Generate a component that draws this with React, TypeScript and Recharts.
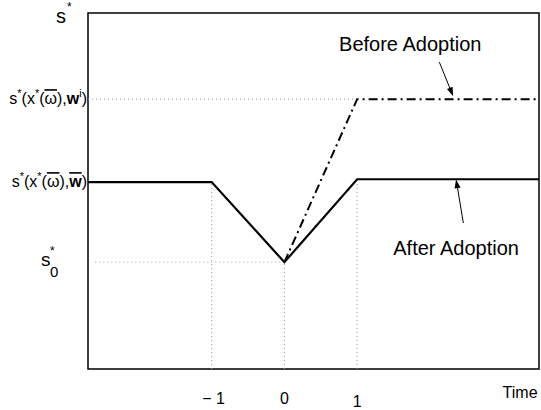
import React from 'react';
import { LineChart, Line, XAxis, YAxis, ReferenceLine, ReferenceArea, ReferenceDot } from 'recharts';

// Domain of the plot
const xDomain = [-2.7, 3.5];
const yDomain = [0, 10];

// Levels
const s0 = 3;
const sBar = 5.25;
const sBarRight = 5.33;
const sWi = 7.58;

// Series
const afterX = [-2.7, -1, 0, 1, 3.5];
const afterY = [sBar, sBar, s0, sBarRight, sBarRight];
const beforeX = [0, 1, 3.5];
const beforeY = [s0, sWi, sWi];

const afterData = afterX.map((x, i) => ({ x, y: afterY[i] }));
const beforeData = beforeX.map((x, i) => ({ x, y: beforeY[i] }));

// Ticks
const timeTicks = [-1, 0, 1];
const timeTickLabels = ['\u2212 1', '0', '1'];
const levelTicks = [s0, sBar, sWi];

// Guide lines (dotted)
const hGuides = [
  { y: sWi, x1: -2.7, x2: 1 },
  { y: s0, x1: -2.6, x2: 0 },
];
const vGuides = [
  { x: -1, y2: sBar },
  { x: 0, y2: s0 },
  { x: 1, y2: sBarRight },
];

// Annotations
const annotations = [
  { text: 'Before Adoption', x: 1.73, y: 8.93 },
  { text: 'After Adoption', x: 2.36, y: 3.2 },
];
const arrows = [
  { x1: 2.13, y1: 8.62, x2: 2.32, y2: 7.66 },
  { x1: 2.46, y1: 4.1, x2: 2.36, y2: 5.33 },
];

const FONT = '"Liberation Sans", Arial, Helvetica, sans-serif';

const ArrowShape = (props: any) => {
  const { x1, y1, x2, y2 } = props;
  const ang = Math.atan2(y2 - y1, x2 - x1);
  const L = 9;
  const W = 3;
  const bx = x2 - L * Math.cos(ang);
  const by = y2 - L * Math.sin(ang);
  const px = -Math.sin(ang) * W;
  const py = Math.cos(ang) * W;
  return (
    <g>
      <line x1={x1} y1={y1} x2={bx} y2={by} stroke="#000" strokeWidth={1} />
      <polygon points={`${x2},${y2} ${bx + px},${by + py} ${bx - px},${by - py}`} fill="#000" />
    </g>
  );
};

const YTick = (props: any) => {
  const { x, y, payload } = props;
  const v = payload.value;
  if (v === s0) {
    return (
      <g fontFamily={FONT} fill="#000">
        <text x={x - 47} y={y + 4} fontSize={19}>s</text>
        <text x={x - 38} y={y + 15} fontSize={15}>0</text>
        <text x={x - 38} y={y - 7} fontSize={12}>*</text>
      </g>
    );
  }
  const isWi = v === sWi;
  return (
    <text x={x - 1} y={y + 5} textAnchor="end" fontFamily={FONT} fontSize={16} fill="#000">
      <tspan>s</tspan>
      <tspan dy={-7} fontSize={11}>*</tspan>
      <tspan dy={7}>(x</tspan>
      <tspan dy={-7} fontSize={11}>*</tspan>
      <tspan dy={7}>(</tspan>
      <tspan style={{ textDecoration: 'overline' }}>ω</tspan>
      <tspan>),</tspan>
      {isWi ? (
        <>
          <tspan fontWeight="bold">w</tspan>
          <tspan dy={-7} fontSize={11}>i</tspan>
          <tspan dy={7}>)</tspan>
        </>
      ) : (
        <>
          <tspan fontWeight="bold" style={{ textDecoration: 'overline' }}>w</tspan>
          <tspan>)</tspan>
        </>
      )}
    </text>
  );
};

const XTick = (props: any) => {
  const { x, y, payload } = props;
  const idx = timeTicks.indexOf(payload.value);
  const label = timeTickLabels[idx] ?? String(payload.value);
  const extra = payload.value === 1 ? 3 : 0;
  return (
    <text x={x + (payload.value === -1 ? 2 : 0)} y={y + 35 + extra} textAnchor="middle" fontFamily={FONT} fontSize={16} fill="#000">
      {label}
    </text>
  );
};

const TextShape = (text: string, size: number) => (props: any) => (
  <text x={props.cx} y={props.cy} textAnchor="middle" fontFamily={FONT} fontSize={size} fill="#000">
    {text}
  </text>
);

const TopLabel = (props: any) => (
  <g fontFamily={FONT} fill="#000">
    <text x={props.cx} y={props.cy} textAnchor="middle" fontSize={20}>s</text>
    <text x={props.cx + 6} y={props.cy - 12} fontSize={12}>*</text>
  </g>
);

export default function App() {
  return (
    <div style={{ position: 'absolute', left: 0, top: 0, background: '#fff' }}>
      <LineChart width={541} height={410} margin={{ top: 13, right: 2, left: 0, bottom: 0 }}>
        <XAxis
          dataKey="x"
          type="number"
          domain={xDomain}
          allowDataOverflow
          ticks={timeTicks}
          tick={<XTick />}
          tickLine={false}
          tickSize={0}
          tickMargin={0}
          axisLine={false}
          height={41}
        />
        <YAxis
          dataKey="y"
          type="number"
          domain={yDomain}
          allowDataOverflow
          ticks={levelTicks}
          tick={<YTick />}
          tickLine={false}
          tickSize={0}
          tickMargin={0}
          axisLine={false}
          width={88}
        />
        {hGuides.map((g, i) => (
          <ReferenceLine
            key={'h' + i}
            segment={[{ x: g.x1, y: g.y }, { x: g.x2, y: g.y }]}
            stroke="#999"
            strokeDasharray="1 3"
            strokeWidth={1}
          />
        ))}
        {vGuides.map((g, i) => (
          <ReferenceLine
            key={'v' + i}
            segment={[{ x: g.x, y: 0 }, { x: g.x, y: g.y2 }]}
            stroke="#999"
            strokeDasharray="1 3"
            strokeWidth={1}
          />
        ))}
        <Line
          data={beforeData}
          dataKey="y"
          stroke="#000"
          strokeWidth={2}
          strokeDasharray="9 4 2 4"
          dot={false}
          isAnimationActive={false}
          type="linear"
        />
        <Line
          data={afterData}
          dataKey="y"
          stroke="#000"
          strokeWidth={2.2}
          dot={false}
          isAnimationActive={false}
          type="linear"
        />
        <ReferenceArea
          x1={xDomain[0]}
          x2={xDomain[1]}
          y1={yDomain[0]}
          y2={yDomain[1]}
          fill="none"
          fillOpacity={0}
          stroke="#000"
          strokeWidth={1.5}
          ifOverflow="visible"
        />
        {arrows.map((a, i) => (
          <ReferenceLine
            key={'a' + i}
            segment={[{ x: a.x1, y: a.y1 }, { x: a.x2, y: a.y2 }]}
            shape={ArrowShape}
            ifOverflow="visible"
          />
        ))}
        {annotations.map((a, i) => (
          <ReferenceDot key={'t' + i} x={a.x} y={a.y} r={0} shape={TextShape(a.text, 20)} ifOverflow="visible" />
        ))}
        <ReferenceDot x={3.24} y={-0.81} r={0} shape={TextShape('Time', 16)} ifOverflow="visible" />
        <ReferenceDot x={-3.07} y={9.72} r={0} shape={<TopLabel />} ifOverflow="visible" />
      </LineChart>
    </div>
  );
}
